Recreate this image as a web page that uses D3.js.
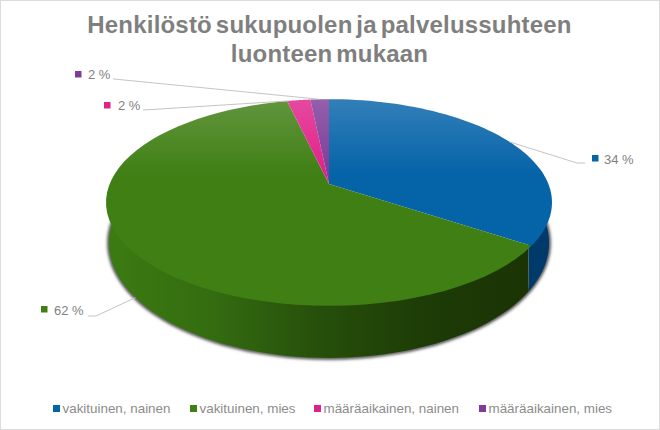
<!DOCTYPE html>
<html>
<head>
<meta charset="utf-8">
<script src="https://cdn.jsdelivr.net/npm/d3@7"></script>
<style>
  html, body { margin: 0; padding: 0; background: #fff; }
  svg { display: block; }
  text { font-family: "Liberation Sans", Arial, sans-serif; }
</style>
</head>
<body>
<svg id="chart" width="660" height="430"></svg>
<script>
const titleLines = ["Henkilöstö sukupuolen ja palvelussuhteen", "luonteen mukaan"];
const categories = ["vakituinen, nainen", "vakituinen, mies", "määräaikainen, nainen", "määräaikainen, mies"];
const values = [34.4, 62, 2, 1.6];
const colors = ["#0563a8", "#3f7f14", "#e0218a", "#7d3c98"];
const sideColors = ["#003a6b", "#1f3d06", "#7a0f4a", "#40194f"];

const width = 660, height = 430;
const cx = 329;
const p = 0.179;                                // perspective of the disc
const topDisc = { cy: 184, R: 219.4, k: 100 };
const baseDisc = { cy: 222.5, R: 216.5, k: 111.2 };
const underTop = { cy: 184, R: 216, k: 97 };    // wall starts under the top face, no seam

const svg = d3.select("#chart");
const defs = svg.append("defs");

// flat disc -> screen, front of the disc is nearer so it looks bigger
function project(a, disc = topDisc) {
  const u = Math.sin(a), v = -Math.cos(a);
  const w = 1 - p * v;
  return [cx + disc.R * u / w, disc.cy + disc.k * v / w];
}

const line = d3.line();
const pie = d3.pie().sort(null)(values);

svg.append("rect").attr("x", 0.5).attr("y", 0.5).attr("width", width - 1).attr("height", height - 1)
  .attr("fill", "#fff").attr("stroke", "#dcdcdc");

colors.forEach((c, i) => {
  const g = defs.append("linearGradient").attr("id", "top" + i).attr("gradientUnits", "userSpaceOnUse")
    .attr("x1", 0).attr("x2", 0).attr("y1", 99).attr("y2", 175);
  g.append("stop").attr("offset", 0).attr("stop-color", d3.interpolateRgb(c, "#fff")(0.18));
  g.append("stop").attr("offset", 1).attr("stop-color", c);
});

const side = defs.append("linearGradient").attr("id", "sideGreen").attr("gradientUnits", "userSpaceOnUse")
  .attr("x1", 106).attr("x2", 532).attr("y1", 0).attr("y2", 0);
side.append("stop").attr("offset", 0).attr("stop-color", "#3c7b12");
side.append("stop").attr("offset", 0.25).attr("stop-color", "#346c10");
side.append("stop").attr("offset", 0.5).attr("stop-color", "#264f0b");
side.append("stop").attr("offset", 0.75).attr("stop-color", "#1d3c06");
side.append("stop").attr("offset", 1).attr("stop-color", "#1b3304");

const blur = defs.append("filter").attr("id", "shadow").attr("x", "-10%").attr("y", "-10%")
  .attr("width", "120%").attr("height", "120%");
blur.append("feGaussianBlur").attr("stdDeviation", 1.5);

function arcPoints(a0, a1, disc = topDisc) {
  return d3.range(0, 61).map(i => project(a0 + (a1 - a0) * i / 60, disc));
}

// only the front half of the wall can be seen
const wallStart = Math.PI / 2, wallEnd = 3 * Math.PI / 2;

svg.append("path")
  .attr("d", line(arcPoints(wallStart, wallEnd, baseDisc)))
  .attr("fill", "none").attr("stroke", "#444").attr("stroke-width", 3.5).attr("filter", "url(#shadow)");

pie.forEach((d, i) => {
  const a0 = Math.max(d.startAngle, wallStart), a1 = Math.min(d.endAngle, wallEnd);
  if (a1 <= a0) return;
  const pts = arcPoints(a0, a1, underTop).concat(arcPoints(a0, a1, baseDisc).reverse());
  svg.append("path").attr("d", line(pts) + "Z")
    .attr("fill", i === 1 ? "url(#sideGreen)" : sideColors[i]);
});

pie.forEach((d, i) => {
  svg.append("path")
    .attr("d", line([[cx, topDisc.cy]].concat(arcPoints(d.startAngle, d.endAngle))) + "Z")
    .attr("fill", `url(#top${i})`);
});

// leader lines and data labels
const labelAt = [
  { box: [592, 155], text: [604, 164], from: [[585, 163], [577, 163]], at: 0.175, disc: topDisc },
  { box: [41, 306], text: [54, 315], from: [[88, 316], [96, 316]], at: 0.647, disc: baseDisc },
  { box: [104, 102], text: [118, 110], from: [[143, 110], [160, 109]], at: 0.966, disc: topDisc },
  { box: [75, 71], text: [88, 79], from: [[113, 79], [114, 79]], at: 0.992, disc: topDisc }
];

pie.forEach((d, i) => {
  const l = labelAt[i];
  const edge = project(2 * Math.PI * l.at, l.disc);
  svg.append("path").attr("d", line([l.from[0], l.from[1], edge]))
    .attr("fill", "none").attr("stroke", "#c4c4c4").attr("stroke-width", 1);
  svg.append("rect").attr("x", l.box[0]).attr("y", l.box[1]).attr("width", 6.5).attr("height", 6.5).attr("fill", colors[i]);
  svg.append("text").attr("x", l.text[0]).attr("y", l.text[1]).attr("font-size", 13)
    .attr("fill", "#7f7f7f").text(`${Math.round(values[i])} %`);
});

// title
svg.append("g").selectAll("text").data(titleLines).join("text")
  .attr("x", 329.5).attr("y", (d, i) => 33 + i * 29)
  .attr("text-anchor", "middle").attr("font-size", 24).attr("font-weight", "bold")
  .attr("letter-spacing", 0.2).attr("word-spacing", -3)
  .attr("fill", "#7f7f7f").text(d => d);

// legend
const legendX = [53, 190, 314, 479];
const legend = svg.append("g").selectAll("g").data(categories).join("g")
  .attr("transform", (d, i) => `translate(${legendX[i]},0)`);
legend.append("rect").attr("y", 405).attr("width", 7).attr("height", 7).attr("fill", (d, i) => colors[i]);
legend.append("text").attr("x", 9.5).attr("y", 413).attr("font-size", 13.4).attr("fill", "#8c8c8c").text(d => d);
</script>
</body>
</html>
